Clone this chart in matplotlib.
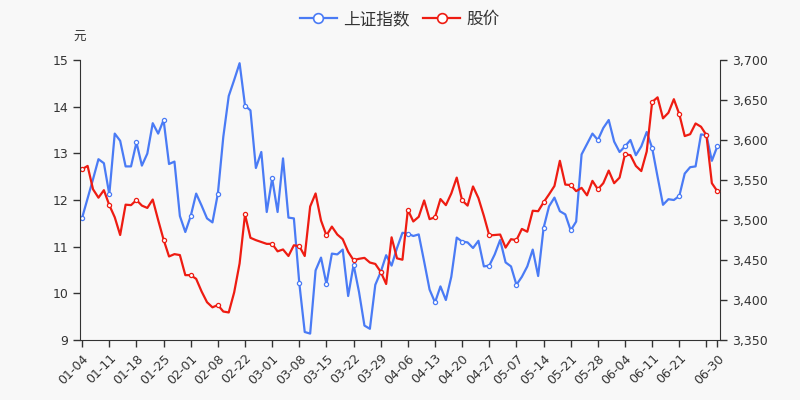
import matplotlib
matplotlib.use('Agg')
import matplotlib.pyplot as plt
from matplotlib.lines import Line2D

# trading days (2021 H1)
dates = (
    ['01-04', '01-05', '01-06', '01-07', '01-08', '01-11', '01-12', '01-13', '01-14', '01-15',
     '01-18', '01-19', '01-20', '01-21', '01-22', '01-25', '01-26', '01-27', '01-28', '01-29']
    + ['02-01', '02-02', '02-03', '02-04', '02-05', '02-08', '02-09', '02-10', '02-18', '02-19',
       '02-22', '02-23', '02-24', '02-25', '02-26']
    + ['03-01', '03-02', '03-03', '03-04', '03-05', '03-08', '03-09', '03-10', '03-11', '03-12',
       '03-15', '03-16', '03-17', '03-18', '03-19', '03-22', '03-23', '03-24', '03-25', '03-26',
       '03-29', '03-30', '03-31']
    + ['04-01', '04-02', '04-06', '04-07', '04-08', '04-09', '04-12', '04-13', '04-14', '04-15',
       '04-16', '04-19', '04-20', '04-21', '04-22', '04-23', '04-26', '04-27', '04-28', '04-29', '04-30']
    + ['05-06', '05-07', '05-10', '05-11', '05-12', '05-13', '05-14', '05-17', '05-18', '05-19',
       '05-20', '05-21', '05-24', '05-25', '05-26', '05-27', '05-28', '05-31']
    + ['06-01', '06-02', '06-03', '06-04', '06-07', '06-08', '06-09', '06-10', '06-11', '06-15',
       '06-16', '06-17', '06-18', '06-21', '06-22', '06-23', '06-24', '06-25', '06-28', '06-29', '06-30']
)

# 上证指数 (right axis)
index_vals = [
    3503, 3527, 3551, 3576, 3571, 3532, 3608, 3599, 3567, 3567,
    3597, 3568, 3583, 3621, 3608, 3625, 3570, 3573, 3505, 3485,
    3505, 3533, 3518, 3502, 3497, 3533, 3604, 3655, 3675, 3696,
    3643, 3637, 3565, 3585, 3510, 3552, 3510, 3577, 3503, 3502,
    3421, 3360, 3358, 3437, 3453, 3420, 3458, 3457, 3463, 3405,
    3444, 3410, 3368, 3364, 3419, 3435, 3456, 3443, 3465, 3484,
    3483, 3480, 3482, 3448, 3413, 3397, 3417, 3400, 3429, 3478,
    3473, 3472, 3465, 3474, 3442, 3443, 3457, 3475, 3447, 3442,
    3419, 3429, 3442, 3463, 3430, 3490, 3517, 3528, 3511, 3507,
    3487, 3498, 3582, 3595, 3608, 3600, 3615, 3625, 3598, 3585,
    3592, 3600, 3581, 3592, 3610, 3590, 3554, 3519, 3526, 3525,
    3530, 3558, 3566, 3567, 3607, 3606, 3574, 3592,
]

# 股价 (left axis, 元)
price_vals = [
    12.66, 12.73, 12.23, 12.05, 12.21, 11.89, 11.63, 11.25, 11.90, 11.89,
    12.00, 11.88, 11.83, 12.01, 11.57, 11.15, 10.79, 10.84, 10.82, 10.39,
    10.39, 10.31, 10.04, 9.81, 9.70, 9.75, 9.61, 9.59, 10.02, 10.64,
    11.69, 11.19, 11.14, 11.10, 11.06, 11.06, 10.90, 10.94, 10.80, 11.03,
    11.01, 10.80, 11.86, 12.14, 11.56, 11.24, 11.43, 11.26, 11.16, 10.89,
    10.71, 10.74, 10.76, 10.66, 10.63, 10.46, 10.20, 11.20, 10.75, 10.72,
    11.79, 11.54, 11.64, 11.99, 11.59, 11.63, 12.02, 11.89, 12.14, 12.48,
    11.99, 11.88, 12.29, 12.04, 11.66, 11.24, 11.25, 11.26, 10.98, 11.16,
    11.14, 11.38, 11.32, 11.77, 11.76, 11.95, 12.12, 12.30, 12.84, 12.33,
    12.32, 12.19, 12.26, 12.10, 12.41, 12.23, 12.36, 12.63, 12.36, 12.48,
    12.98, 12.96, 12.73, 12.62, 13.04, 14.10, 14.20, 13.75, 13.87, 14.16,
    13.84, 13.37, 13.41, 13.64, 13.57, 13.39, 12.36, 12.19,
]

left_ticks = [9, 10, 11, 12, 13, 14, 15]
right_ticks = [3350, 3400, 3450, 3500, 3550, 3600, 3650, 3700]

blue = '#4a7bf5'
red = '#ee1c12'
bg = '#f8f8f8'
txt = '#333333'

plt.rcParams['font.family'] = ['Noto Sans CJK SC', 'DejaVu Sans']

fig = plt.figure(figsize=(8, 4), dpi=100, facecolor=bg)
ax = fig.add_axes([0.1, 0.15, 0.8, 0.7])
ax2 = ax.twinx()
ax2.set_facecolor(bg)
ax.set_zorder(ax2.get_zorder() + 1)
ax.patch.set_visible(False)

x = list(range(len(dates)))
marks = list(range(0, len(dates), 5)) + [len(dates) - 1]

ax2.plot(x, index_vals, color=blue, lw=1.6, marker='o', markevery=marks,
         markersize=3, markerfacecolor='white', markeredgecolor=blue, markeredgewidth=0.9)
ax.plot(x, price_vals, color=red, lw=1.6, marker='o', markevery=marks,
        markersize=3, markerfacecolor='white', markeredgecolor=red, markeredgewidth=0.9)

ax.set_xlim(-0.4, len(dates) - 0.5)
ax.set_ylim(9, 15)
ax2.set_ylim(3350, 3700)
ax.set_yticks(left_ticks)
ax.set_yticklabels([str(v) for v in left_ticks], family='DejaVu Sans')
ax2.set_yticks(right_ticks)
ax2.set_yticklabels([f'{v:,}' for v in right_ticks], family='DejaVu Sans')

tick_pos = list(range(0, len(dates), 5)) + [len(dates) - 1]
tick_lab = [dates[i] if i != 115 else '' for i in tick_pos]
ax.set_xticks(tick_pos)
ax.set_xticklabels(tick_lab, rotation=45, ha='right', rotation_mode='anchor', family='DejaVu Sans')

for a in (ax, ax2):
    a.spines['top'].set_visible(False)
    a.tick_params(colors=txt, labelsize=9, length=5, width=1)
    for s in a.spines.values():
        s.set_color(txt)
ax.spines['right'].set_visible(False)
ax2.spines['left'].set_visible(False)
ax2.spines['bottom'].set_visible(False)

fig.text(0.1, 0.89, '元', ha='center', va='bottom', fontsize=9, color=txt)

handles = [
    Line2D([], [], color=blue, lw=1.6, marker='o', markersize=7,
           markerfacecolor='white', markeredgecolor=blue, markeredgewidth=1.2),
    Line2D([], [], color=red, lw=1.6, marker='o', markersize=7,
           markerfacecolor='white', markeredgecolor=red, markeredgewidth=1.2),
]
fig.legend(handles, ['上证指数', '股价'], loc='upper center', bbox_to_anchor=(0.5, 1.01),
           ncol=2, frameon=False, fontsize=12, handlelength=2.2, columnspacing=0.8,
           handletextpad=0.4, labelcolor=txt)

fig.savefig('out.png', dpi=100, facecolor=bg)
